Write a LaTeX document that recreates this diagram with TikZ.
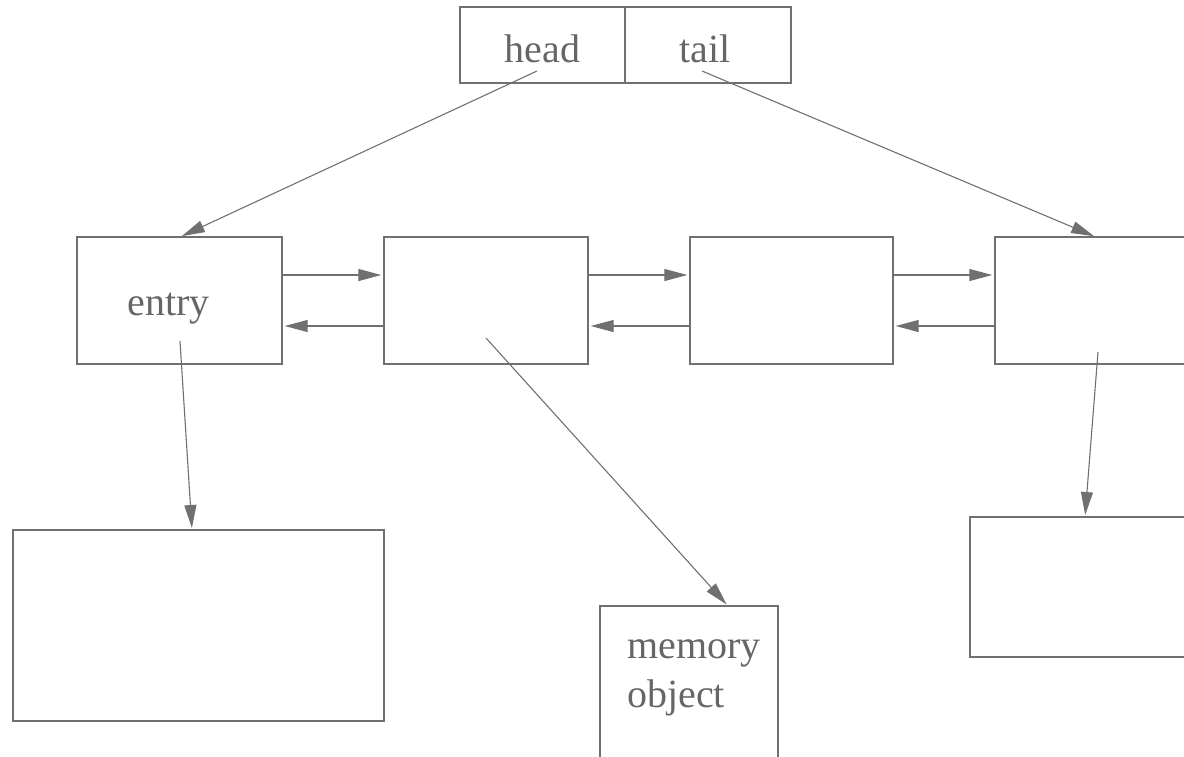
\documentclass[tikz,border=0pt]{standalone}
\usepackage{fontspec}
\setmainfont{Liberation Serif}
\usetikzlibrary{arrows.meta,positioning}
\definecolor{ln}{RGB}{112,112,112}
\definecolor{tx}{RGB}{102,102,102}
\tikzset{
  box/.style={draw=ln, line width=1.4pt, rectangle, inner sep=0pt},
  arr/.style={draw=ln, line width=1.1pt, -{Triangle[length=23pt,width=12pt]}, shorten >=2pt},
  lbl/.style={text=tx, font=\fontsize{40}{49}\selectfont, inner sep=0pt}
}
\begin{document}
\begin{tikzpicture}[x=1pt,y=-1pt]
\useasboundingbox (0,0) rectangle (1184,756);
\clip (0,0) rectangle (1184,756);
% top record
\node[box, minimum width=165pt, minimum height=76pt] (head) at (542.5,45) {};
\node[box, minimum width=166pt, minimum height=76pt] (tail) at (708,45) {};
\node[lbl, anchor=base] (headtxt) at (542.5,62) {head};
\node[lbl, anchor=base] (tailtxt) at (705,62) {tail};
% row of list entries
\node[box, minimum width=205pt, minimum height=127pt] (b1) at (179.5,300.5) {};
\node[box, minimum width=204pt, minimum height=127pt] (b2) at (486,300.5) {};
\node[box, minimum width=203pt, minimum height=127pt] (b3) at (791.5,300.5) {};
\node[box, minimum width=215pt, minimum height=127pt] (b4) at (1102.5,300.5) {};
\node[lbl, anchor=base] (entrytxt) at (168.5,315) {entry};
% lower objects
\node[box, minimum width=371pt, minimum height=191pt] (o1) at (198.5,625.5) {};
\node[box, minimum width=178pt, minimum height=180pt] (o2) at (689,696) {};
\node[box, minimum width=240pt, minimum height=140pt] (o3) at (1090,587) {};
\node[lbl, anchor=base west, align=left] (memtxt) at (627,707) {memory\\object};
% connector end points
\coordinate (hs) at (537,71);
\coordinate (ts) at (702,71);
\coordinate (es) at (180,341);
\coordinate (ee) at (192,530);
\coordinate (ms) at (486,338);
\coordinate (me) at (728,606);
\coordinate (rs) at (1098,352);
\coordinate (re) at (1085,517);
\coordinate (b1n) at (180,237);
\coordinate (b4n) at (1096,237);
% pointers from head/tail
\draw[arr] (hs) -- (b1n);
\draw[arr] (ts) -- (b4n);
% forward/backward links
\draw[arr] ([yshift=25.5pt]b1.east) -- ([yshift=25.5pt]b2.west);
\draw[arr] ([yshift=-25.5pt]b2.west) -- ([yshift=-25.5pt]b1.east);
\draw[arr] ([yshift=25.5pt]b2.east) -- ([yshift=25.5pt]b3.west);
\draw[arr] ([yshift=-25.5pt]b3.west) -- ([yshift=-25.5pt]b2.east);
\draw[arr] ([yshift=25.5pt]b3.east) -- ([yshift=25.5pt]b4.west);
\draw[arr] ([yshift=-25.5pt]b4.west) -- ([yshift=-25.5pt]b3.east);
% pointers to objects
\draw[arr] (es) -- (ee);
\draw[arr] (ms) -- (me);
\draw[arr] (rs) -- (re);
\end{tikzpicture}
\end{document}
